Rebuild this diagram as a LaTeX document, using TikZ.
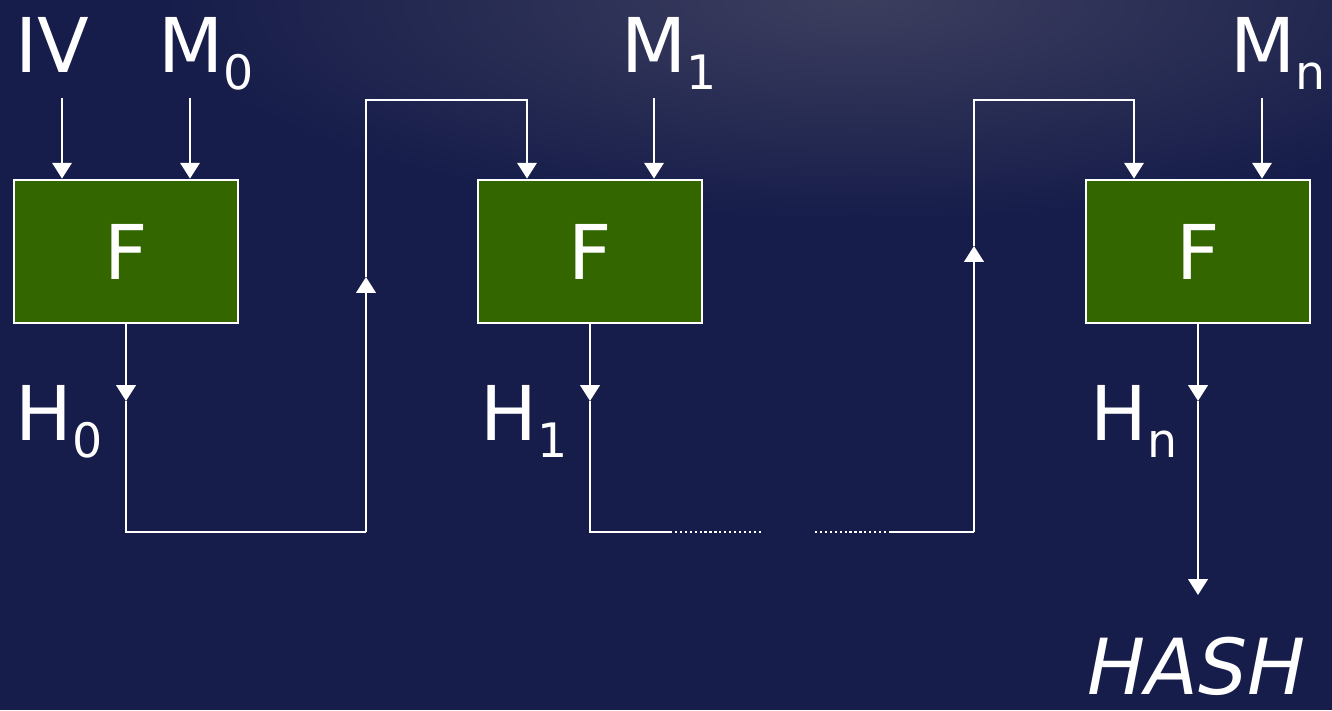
\documentclass[tikz,border=0pt]{standalone}
\usepackage{fontspec}
\setmainfont{DejaVu Sans}
\usetikzlibrary{arrows.meta}
\definecolor{navybg}{RGB}{22,29,74}
\definecolor{glow}{RGB}{60,62,94}
\definecolor{boxgreen}{RGB}{52,102,0}
\newcommand{\lowidx}[1]{\raisebox{-10pt}{\fontsize{27}{30}\selectfont #1}}

\begin{document}
\begin{tikzpicture}[x=0.02cm, y=-0.02cm,
  font=\fontsize{43}{48}\selectfont,
  fbox/.style={draw=white, line width=1.6pt, fill=boxgreen, text=white,
               minimum width=4.48cm, minimum height=2.86cm, inner sep=0pt},
  lbl/.style={text=white, anchor=base west, inner sep=0pt},
  wire/.style={draw=white, line width=1.5pt},
  arr/.style={wire, -{Triangle[length=9pt, width=11pt]}},
  dots/.style={draw=white, line width=1.3pt, dash pattern=on 1.3pt off 1.5pt}]
\useasboundingbox (0,0) rectangle (1332,710);
% background
\fill[navybg] (0,0) rectangle (1332,710);
\begin{scope}
\clip (0,0) rectangle (1332,710);
\shade[inner color=glow, outer color=navybg] (860,0) ellipse [x radius=700, y radius=220];
\end{scope}
% compression boxes
\node[fbox] (f0) at (126,251.5) {F};
\node[fbox] (f1) at (590,251.5) {F};
\node[fbox] (fn) at (1198,251.5) {F};
% labels
\node[lbl] (iv) at (15,72) {IV};
\node[lbl] (m0) at (158,72) {M\lowidx{0}};
\node[lbl] (m1) at (621,72) {M\lowidx{1}};
\node[lbl] (mn) at (1230,72) {M\lowidx{n}};
\node[lbl] (h0) at (15,440) {H\lowidx{0}};
\node[lbl] (h1) at (480,440) {H\lowidx{1}};
\node[lbl] (hn) at (1090,440) {H\lowidx{n}};
\node[lbl, font=\fontsize{44}{50}\selectfont\itshape] (hash) at (1087,694) {HASH};
% inputs
\coordinate (ivin) at (62,98);
\coordinate (m0in) at (190,98);
\coordinate (m1in) at (654,98);
\coordinate (mnin) at (1262,98);
\draw[arr] (ivin) -- (ivin |- f0.north);
\draw[arr] (m0in) -- (m0in |- f0.north);
\draw[arr] (m1in) -- (m1in |- f1.north);
\draw[arr] (mnin) -- (mnin |- fn.north);
% first chaining value
\coordinate (t0) at (126,401);
\coordinate (b0) at (366,532);
\coordinate (u0) at (366,277);
\coordinate (top0) at (527,100);
\draw[arr] (f0.south) -- (t0);
\draw[wire] (t0) |- (b0);
\draw[arr] (b0) -- (u0);
\draw[arr] (u0) |- (top0) -- (top0 |- f1.north);
% second chaining value, with the gap
\coordinate (t1) at (590,401);
\coordinate (d1) at (670,532);
\coordinate (d1e) at (763,532);
\coordinate (d2) at (815,532);
\coordinate (d2e) at (890,532);
\coordinate (b1) at (974,532);
\coordinate (u1) at (974,246);
\coordinate (top1) at (1134,100);
\draw[arr] (f1.south) -- (t1);
\draw[wire] (t1) |- (d1);
\draw[dots] (d1) -- (d1e);
\draw[dots] (d2) -- (d2e);
\draw[wire] (d2e) -- (b1);
\draw[arr] (b1) -- (u1);
\draw[arr] (u1) |- (top1) -- (top1 |- fn.north);
% output
\coordinate (tn) at (1198,401);
\coordinate (hashin) at (1198,595);
\draw[arr] (fn.south) -- (tn);
\draw[arr] (tn) -- (hashin);
\end{tikzpicture}
\end{document}
